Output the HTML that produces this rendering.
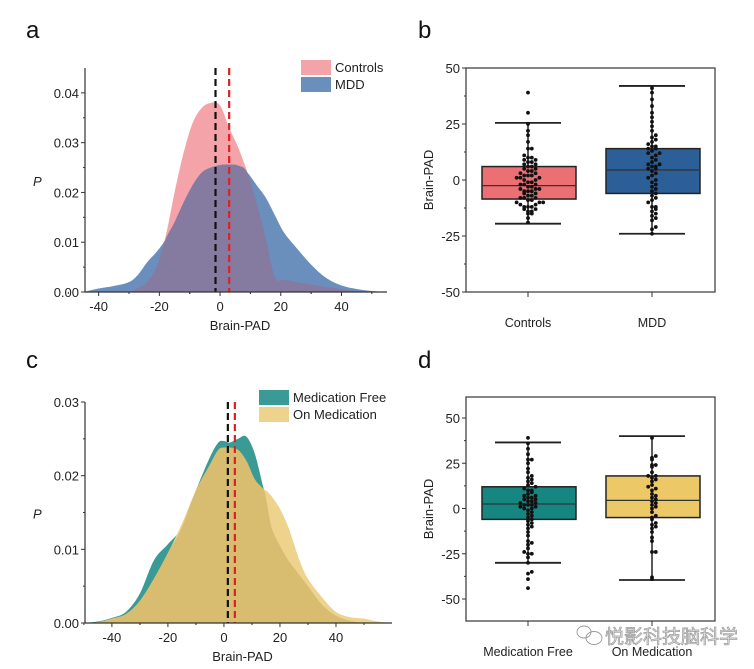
<!DOCTYPE html>
<html><head><meta charset="utf-8"><style>
body{margin:0;background:#fff;}
svg{display:block;font-family:"Liberation Sans","Noto Sans CJK SC",sans-serif;}
</style></head><body>
<svg id="fig" width="754" height="669" viewBox="0 0 754 669"></svg>
<script>
// ---- Panel a data ----
const aX = [-45,-40,-35,-30,-27,-24,-21,-18,-15,-12,-9,-6,-3,0,3,6,9,12,15,18,21,25,30,35,40,45,50,55];
const aControls = [0,0,0,0,0.0008,0.002,0.005,0.011,0.020,0.028,0.034,0.037,0.038,0.0375,0.033,0.029,0.024,0.018,0.011,0.003,0.0025,0.002,0.0015,0.001,0.0006,0.0002,0,0];
const aMDD = [0,0.0007,0.0012,0.002,0.0035,0.006,0.008,0.0105,0.014,0.018,0.0215,0.024,0.025,0.0255,0.0256,0.0254,0.024,0.0215,0.019,0.0155,0.012,0.009,0.0055,0.0028,0.0013,0.0006,0.0002,0];
const aMeans = [-1.5, 3];
const aYTicks = [0,0.01,0.02,0.03,0.04];
const aXTicks = [-40,-20,0,20,40];
// ---- Panel c data ----
const cX = [-50,-45,-40,-35,-30,-25,-20,-15,-10,-5,-2,0,2,5,8,11,14,15,17,20,23,27,30,35,40,45,50,55,60];
const cFree = [0,0.0002,0.0007,0.0015,0.004,0.0085,0.0107,0.013,0.018,0.0225,0.0245,0.0247,0.0245,0.025,0.0253,0.023,0.0185,0.017,0.013,0.0105,0.0085,0.0065,0.005,0.0025,0.001,0.0003,0,0,0];
const cOnMed = [0,0.0001,0.0006,0.0012,0.003,0.006,0.0095,0.0135,0.018,0.0215,0.0235,0.0238,0.0238,0.0235,0.022,0.0195,0.0182,0.018,0.0172,0.0155,0.013,0.0085,0.006,0.0035,0.0015,0.0008,0.0006,0.0002,0];
const cMeans = [1.4, 3.9];
const cYTicks = [0,0.01,0.02,0.03];
const cXTicks = [-40,-20,0,20,40];
// ---- Panel b data ----
const bCats = ["Controls","MDD"];
const bStats = [[-19.5,-8.5,-2.5,6,25.5],[-24,-6,4.5,14,42]]; // whiskerLo,Q1,median,Q3,whiskerHi
const bControlsVals = [-19,-17,-15,-15,-14,-14,-13,-13,-12,-12,-12,-11,-11,-10,-10,-10,-9,-9,-8,-8,-8,-7,-7,-6,-6,-5,-5,-5,-4,-4,-4,-3,-3,-2,-2,-2,-1,-1,0,0,1,1,1,2,2,2,3,3,4,4,5,5,6,6,7,7,8,8,9,9,10,10,11,14,14,17,20,22,25,30,39];
const bMDDVals = [-24,-22,-21,-18,-17,-16,-15,-14,-13,-12,-12,-10,-9,-8,-7,-6,-5,-4,-3,-2,-1,0,1,2,3,4,5,5,6,6,7,7,8,9,10,11,12,12,13,14,14,15,15,16,17,18,19,20,22,24,26,28,30,33,36,39,41];
const bYTicks = [-50,-25,0,25,50];
// ---- Panel d data ----
const dCats = ["Medication Free","On Medication"];
const dStats = [[-30,-6,2.5,12,36.5],[-39.5,-5,4.5,18,40]];
const dFreeVals = [-44,-39,-36,-35,-30,-27,-25,-25,-24,-22,-20,-19,-18,-15,-13,-11,-10,-9,-8,-7,-6,-5,-4,-3,-2,-1,0,0,1,1,2,2,2,3,3,4,4,5,5,6,6,7,7,8,9,10,10,11,12,13,14,15,16,17,18,20,22,25,27,27,30,33,36,39];
const dOnMedVals = [-39,-38,-24,-24,-18,-16,-13,-11,-10,-9,-8,-6,-5,-4,-2,0,1,2,3,4,5,6,7,8,10,11,12,13,15,16,17,18,18,20,23,24,24,27,28,29,39];
const dYTicks = [-50,-25,0,25,50];

const NS="http://www.w3.org/2000/svg";
const svg=document.getElementById('fig');
function el(tag,attrs,parent,text){const e=document.createElementNS(NS,tag);for(const k in attrs)e.setAttribute(k,attrs[k]);if(text!==undefined)e.textContent=text;(parent||svg).appendChild(e);return e;}
function smooth(pts){let d=`M${pts[0][0]},${pts[0][1]}`;for(let i=0;i<pts.length-1;i++){const p0=pts[Math.max(0,i-1)],p1=pts[i],p2=pts[i+1],p3=pts[Math.min(pts.length-1,i+2)];const c1=[p1[0]+(p2[0]-p0[0])/6,p1[1]+(p2[1]-p0[1])/6],c2=[p2[0]-(p3[0]-p1[0])/6,p2[1]-(p3[1]-p1[1])/6];d+=`C${c1[0]},${c1[1]} ${c2[0]},${c2[1]} ${p2[0]},${p2[1]}`;}return d;}

function letter(t,x,y){const e=el('text',{x:x,y:y,'font-size':24,fill:'#111'},svg,t);}
letter('a',26,38);letter('b',418,38);letter('c',26,368);letter('d',418,368);

function densityPanel(o){
  const g=el('g',{});
  const sx=v=>o.x0+(v-o.xmin)*(o.x1-o.x0)/(o.xmax-o.xmin);
  const sy=v=>o.y1-(v-o.ymin)*(o.y1-o.y0)/(o.ymax-o.ymin);
  const area=(vals)=>{const pts=o.xs.map((x,i)=>[sx(x),sy(vals[i])]);return smooth(pts)+`L${sx(o.xs[o.xs.length-1])},${sy(0)}L${sx(o.xs[0])},${sy(0)}Z`;};
  const p1=el('path',{d:area(o.s1),fill:o.c1},g);
  const p2=el('path',{d:area(o.s2),fill:o.c2},g);
  const mn=o.s1.map((v,i)=>Math.min(v,o.s2[i]));
  const p3=el('path',{d:area(mn),fill:o.cOv},g);
  o.means.forEach((m,i)=>{const l=el('line',{x1:sx(m),x2:sx(m),y1:o.y0,y2:o.y1,stroke:i?'#e02020':'#111','stroke-width':2.2,'stroke-dasharray':'7,4'},g);});
  const ax=el('path',{d:`M${o.x0},${o.y0}V${o.y1}H${o.x1}`,stroke:'#333','stroke-width':1.2,fill:'none'},g);
  o.yTicks.forEach(t=>{el('line',{x1:o.x0-4,x2:o.x0,y1:sy(t),y2:sy(t),stroke:'#333'},g);const tx=el('text',{x:o.x0-6,y:sy(t)+5,'font-size':13,'text-anchor':'end',fill:'#222'},g,t.toFixed(2));});
  for(let i=0;i<o.yTicks.length-1;i++){const m=(o.yTicks[i]+o.yTicks[i+1])/2;el('line',{x1:o.x0-2,x2:o.x0,y1:sy(m),y2:sy(m),stroke:'#333'},g);}
  o.xTicks.forEach(t=>{el('line',{x1:sx(t),x2:sx(t),y1:o.y1,y2:o.y1+4,stroke:'#333'},g);el('line',{x1:sx(t+10),x2:sx(t+10),y1:o.y1,y2:o.y1+2,stroke:'#333'},g);el('line',{x1:sx(t-10),x2:sx(t-10),y1:o.y1,y2:o.y1+2,stroke:'#333'},g);const tx=el('text',{x:sx(t),y:o.y1+19,'font-size':13,'text-anchor':'middle',fill:'#222'},g,t);});
  const xt=el('text',{x:(o.x0+o.x1)/2+4,y:o.y1+38,'font-size':13,'text-anchor':'middle',fill:'#222'},g,'Brain-PAD');
  const yt=el('text',{x:33,y:(o.y0+o.y1)/2+6,'font-size':13,'font-style':'italic',fill:'#222'},g,'P');
  [[o.c1l,o.n1l],[o.c2l,o.n2l]].forEach((e,i)=>{const r=el('rect',{x:o.lx,y:o.ly+i*17,width:30,height:15,fill:e[0]},g);const tx=el('text',{x:o.lx+34,y:o.ly+i*17+12,'font-size':13,fill:'#222'},g,e[1]);});
}
densityPanel({name:'panel-a-density',xs:aX,s1:aControls,s2:aMDD,c1:'#f4a3a8',c2:'#6a8fbd',cOv:'#857ba1',means:aMeans,yTicks:aYTicks,xTicks:aXTicks,x0:85,x1:387,xmin:-44.5,xmax:55,y0:68,y1:292,ymin:0,ymax:0.045,lx:301,ly:60,c1l:'#f4a3a8',c2l:'#6a8fbd',n1:'controls',n2:'mdd',n1l:'Controls',n2l:'MDD'});
densityPanel({name:'panel-c-density',xs:cX,s1:cFree,s2:cOnMed,c1:'#3a9a95',c2:'#eed38c',cOv:'#d8bd71',means:cMeans,yTicks:cYTicks,xTicks:cXTicks,x0:85,x1:392,xmin:-49.6,xmax:60,y0:402,y1:623,ymin:0,ymax:0.03,lx:259,ly:390,c1l:'#3a9a95',c2l:'#eed38c',n1:'medication-free',n2:'on-medication',n1l:'Medication Free',n2l:'On Medication'});

function boxPanel(o){
  const g=el('g',{});
  const sy=v=>o.yz-v*o.k;
  const fr=el('rect',{x:466,y:o.y0,width:249,height:o.y1-o.y0,fill:'none',stroke:'#444','stroke-width':1.3},g);
  o.yTicks.forEach(t=>{el('line',{x1:462,x2:466,y1:sy(t),y2:sy(t),stroke:'#333'},g);if(sy(t+12.5)>o.y0+1)el('line',{x1:464,x2:466,y1:sy(t+12.5),y2:sy(t+12.5),stroke:'#333'},g);const tx=el('text',{x:460,y:sy(t)+5,'font-size':13,'text-anchor':'end',fill:'#222'},g,t);});
  if(sy(-62.5)<o.y1-1)el('line',{x1:464,x2:466,y1:sy(-62.5),y2:sy(-62.5),stroke:'#333'},g);
  const yt=el('text',{x:0,y:0,'font-size':13,'text-anchor':'middle',fill:'#222',transform:`translate(433,${(o.y0+o.y1)/2}) rotate(-90)`},g,'Brain-PAD');
  const cx=[528,652];
  o.cats.forEach((c,i)=>{
    const s=o.stats[i],x=cx[i];
    el('line',{x1:x,x2:x,y1:o.y1,y2:o.y1+5,stroke:'#333'},g);
    const tx=el('text',{x:x,y:o.ly,'font-size':12.5,'text-anchor':'middle',fill:'#222'},g,c);
    const w=el('line',{x1:x,x2:x,y1:sy(s[0]),y2:sy(s[4]),stroke:'#222','stroke-width':1.5},g);
    [s[0],s[4]].forEach(v=>{const cp=el('line',{x1:x-33,x2:x+33,y1:sy(v),y2:sy(v),stroke:'#222','stroke-width':1.8},g);});
    const r=el('rect',{x:x-46,y:sy(s[3]),width:94,height:sy(s[1])-sy(s[3]),fill:o.colors[i],stroke:'#222','stroke-width':1.5},g);
    const md=el('line',{x1:x-46,x2:x+48,y1:sy(s[2]),y2:sy(s[2]),stroke:'#333','stroke-width':1.3},g);
    const bins={};
    o.vals[i].forEach(v=>{const b=Math.round(v/2.2);const n=bins[b]||0;bins[b]=n+1;const off=n===0?0:(n%2?1:-1)*Math.ceil(n/2)*3.8;const d=el('circle',{cx:x+off,cy:sy(v),r:1.9,fill:'#111'},g);});
  });
}
boxPanel({name:'panel-b-boxplot',cats:bCats,stats:bStats,vals:[bControlsVals,bMDDVals],colors:['#ec6f74','#2c5f97'],yTicks:bYTicks,y0:68,y1:292,yz:180,k:2.24,ly:327});
boxPanel({name:'panel-d-boxplot',cats:dCats,stats:dStats,vals:[dFreeVals,dOnMedVals],colors:['#168780','#edc866'],yTicks:dYTicks,y0:397,y1:621,yz:508.5,k:1.81,ly:656});

const wm=el('text',{x:605,y:643,'font-size':19,fill:'#e4e4e4',stroke:'#9a9a9a','stroke-width':0.7},svg,'悦影科技脑科学');


const wi=el('g',{fill:'none',stroke:'#999','stroke-width':0.9});


el('ellipse',{cx:584,cy:632,rx:7,ry:6},wi);el('ellipse',{cx:594,cy:638,rx:8,ry:6.5},wi);
</script>
</body></html>
